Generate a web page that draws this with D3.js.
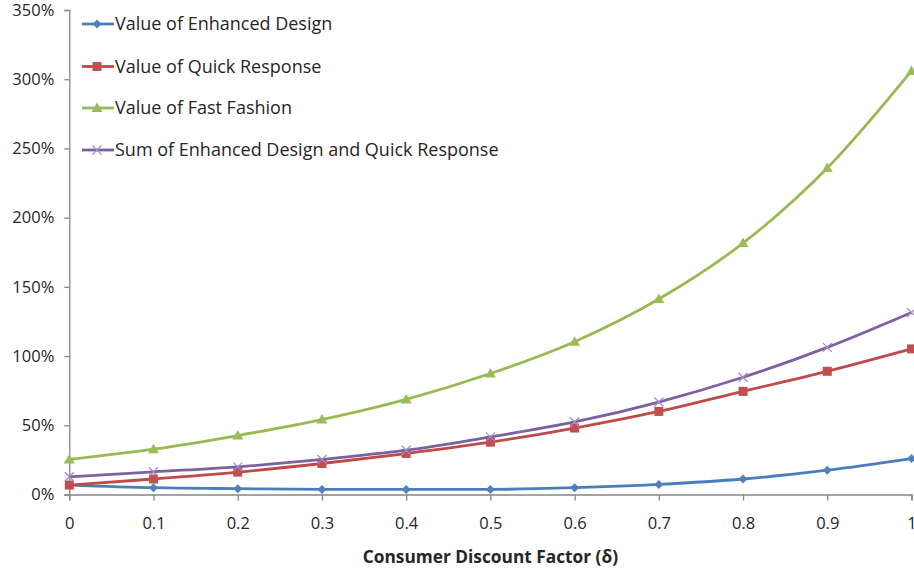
<!DOCTYPE html>
<html>
<head>
<meta charset="utf-8">
<script src="https://cdn.jsdelivr.net/npm/d3@7"></script>
<style>
  html, body { margin: 0; padding: 0; background: #ffffff; }
  svg { display: block; font-family: "Open Sans", sans-serif; }
</style>
</head>
<body>
<svg id="chart" width="914" height="573"></svg>
<script>
// ---- data ----
const deltas = [0, 0.1, 0.2, 0.3, 0.4, 0.5, 0.6, 0.7, 0.8, 0.9, 1];
const xTickLabels = ["0", "0.1", "0.2", "0.3", "0.4", "0.5", "0.6", "0.7", "0.8", "0.9", "1"];
const yTicks = [0, 0.5, 1.0, 1.5, 2.0, 2.5, 3.0, 3.5];

const enhancedDesign = [0.068, 0.049, 0.042, 0.037, 0.037, 0.037, 0.049, 0.073, 0.112, 0.176, 0.260];
const quickResponse  = [0.068, 0.112, 0.162, 0.224, 0.296, 0.378, 0.480, 0.600, 0.745, 0.890, 1.052];
const fastFashion    = [0.253, 0.327, 0.426, 0.541, 0.687, 0.874, 1.104, 1.412, 1.816, 2.358, 3.060];
const sumEDQR        = [0.128, 0.164, 0.200, 0.253, 0.320, 0.416, 0.524, 0.668, 0.847, 1.063, 1.315];

const seriesNames = [
  "Value of Enhanced Design",
  "Value of Quick Response",
  "Value of Fast Fashion",
  "Sum of Enhanced Design and Quick Response"
];
const seriesValues = [enhancedDesign, quickResponse, fastFashion, sumEDQR];
const seriesColors = ["#4A7EBB", "#BE4B48", "#98B954", "#7D60A0"];
const markerColors = ["#4F81BD", "#C0504D", "#9BBB59", "#A08CC4"];
const markerTypes  = ["diamond", "square", "triangle", "x"];

const xAxisTitle = "Consumer Discount Factor (\u03B4)";

// ---- layout ----
const svg = d3.select("#chart");
const plotLeft = 69.3, plotRight = 911.5, plotTop = 10, plotBottom = 494.5;

const x = d3.scaleLinear().domain([0, 1]).range([plotLeft, plotRight]);
const y = d3.scaleLinear().domain([0, 3.5]).range([plotBottom, plotTop]);

const axisColor = "#868686";
const textColor = "#262626";

// y axis
const yAxis = d3.axisLeft(y)
  .tickValues(yTicks)
  .tickFormat(d3.format(".0%"))
  .tickSize(5)
  .tickPadding(10);
const gy = svg.append("g").attr("transform", `translate(${plotLeft},0)`).call(yAxis);
gy.select(".domain").attr("stroke", axisColor).attr("stroke-width", 1.3);
gy.selectAll(".tick line").attr("stroke", axisColor).attr("stroke-width", 1.3);
gy.selectAll(".tick text").attr("fill", textColor).style("font-size", "16.5px")
  .style("font-family", "'Open Sans', sans-serif");

// x axis
const xAxis = d3.axisBottom(x)
  .tickValues(deltas)
  .tickFormat((d, i) => xTickLabels[i])
  .tickSize(6)
  .tickPadding(17);
const gx = svg.append("g").attr("transform", `translate(0,${plotBottom})`).call(xAxis);
gx.select(".domain").attr("stroke", axisColor).attr("stroke-width", 1.3);
gx.selectAll(".tick line").attr("stroke", axisColor).attr("stroke-width", 1.3);
gx.selectAll(".tick text").attr("fill", textColor).style("font-size", "16.5px")
  .style("font-family", "'Open Sans', sans-serif");

// x axis title
svg.append("text")
  .attr("x", (plotLeft + plotRight) / 2)
  .attr("y", 563)
  .attr("text-anchor", "middle")
  .attr("fill", textColor)
  .style("font-size", "17.3px")
  .style("font-weight", "bold")
  .text(xAxisTitle);

// ---- markers ----
function drawMarker(g, type, cx, cy, color) {
  if (type === "diamond") {
    g.append("path")
      .attr("d", `M${cx},${cy - 4.5}L${cx + 4.5},${cy}L${cx},${cy + 4.5}L${cx - 4.5},${cy}Z`)
      .attr("fill", color);
  } else if (type === "square") {
    g.append("rect")
      .attr("x", cx - 4.5).attr("y", cy - 4.5)
      .attr("width", 9).attr("height", 9)
      .attr("fill", color);
  } else if (type === "triangle") {
    g.append("path")
      .attr("d", `M${cx},${cy - 5.5}L${cx + 5.5},${cy + 4}L${cx - 5.5},${cy + 4}Z`)
      .attr("fill", color);
  } else if (type === "x") {
    g.append("path")
      .attr("d", `M${cx - 4.5},${cy - 4.5}L${cx + 4.5},${cy + 4.5}M${cx - 4.5},${cy + 4.5}L${cx + 4.5},${cy - 4.5}`)
      .attr("stroke", color).attr("stroke-width", 1.2).attr("fill", "none");
  }
}

// ---- series ----
const line = d3.line()
  .x((d, i) => x(deltas[i]))
  .y(d => y(d))
  .curve(d3.curveMonotoneX);

seriesValues.forEach((vals, s) => {
  const g = svg.append("g");
  g.append("path")
    .datum(vals)
    .attr("d", line)
    .attr("fill", "none")
    .attr("stroke", seriesColors[s])
    .attr("stroke-width", 2.8)
    .attr("stroke-linejoin", "round");
  vals.forEach((v, i) => drawMarker(g, markerTypes[s], x(deltas[i]), y(v), markerColors[s]));
});

// ---- legend ----
const legendRows = [24, 66.5, 108, 150];
seriesNames.forEach((name, s) => {
  const g = svg.append("g");
  const cy = legendRows[s];
  g.append("line")
    .attr("x1", 82).attr("x2", 114)
    .attr("y1", cy).attr("y2", cy)
    .attr("stroke", seriesColors[s]).attr("stroke-width", 2.8);
  drawMarker(g, markerTypes[s], 97, cy, markerColors[s]);
  g.append("text")
    .attr("x", 115)
    .attr("y", cy)
    .attr("dy", "0.35em")
    .attr("fill", textColor)
    .style("font-size", "18px")
    .text(name);
});
</script>
</body>
</html>
